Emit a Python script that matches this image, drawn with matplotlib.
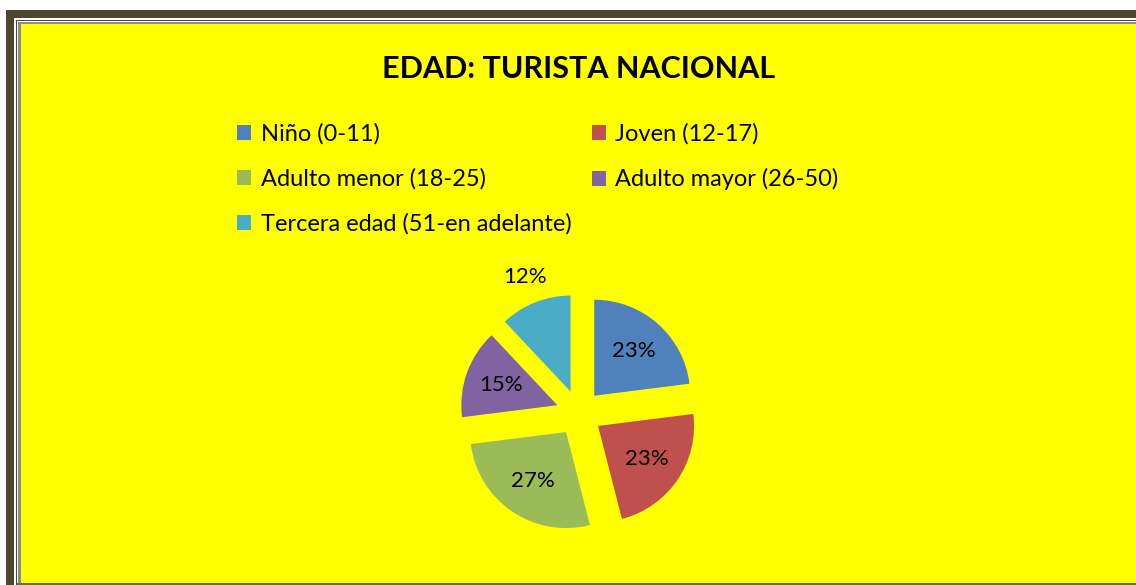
import matplotlib.pyplot as plt
from matplotlib.patches import Rectangle, Patch

# --- data ---
categories = ['Niño (0-11)', 'Joven (12-17)', 'Adulto menor (18-25)',
              'Adulto mayor (26-50)', 'Tercera edad (51-en adelante)']
shares = [23, 23, 27, 15, 12]
colors = ['#4F81BD', '#C0504D', '#9BBB59', '#8064A2', '#4BACC6']

W, H = 1136, 585
fig = plt.figure(figsize=(W / 100, H / 100), dpi=100, facecolor='white')


def frame_rect(x0, y0, x1, y1, color):
    """Rectangle given in pixel coords measured from the top-left."""
    fig.patches.append(Rectangle((x0 / W, 1 - y1 / H), (x1 - x0) / W, (y1 - y0) / H,
                                 transform=fig.transFigure, facecolor=color,
                                 edgecolor='none', zorder=-5))


# --- decorative frame ---
dark = '#4E4730'
frame_rect(6, 10, W, 18, dark)
frame_rect(6, 10, 14, H, dark)
frame_rect(16, 20, W, 21, dark)
frame_rect(16, 20, 17, H, dark)
frame_rect(18, 22, W, 24, '#8C8C8C')
frame_rect(18, 22, 21, H, '#8C8C8C')
frame_rect(21, 24, W, 583, '#FFFF00')
frame_rect(17, 583, W, H, '#6B6B50')

fig.text(579 / W, 1 - 69 / H, 'EDAD: TURISTA NACIONAL', ha='center', va='center',
         fontsize=22, fontweight='bold', family='Lato')

# --- pie ---
cx, cy, r = 579, 413, 96
ax = fig.add_axes([(cx - 150) / W, (H - cy - 150) / H, 300 / W, 300 / H], zorder=2)
ax.set_facecolor('none')
wedges, texts, autotexts = ax.pie(
    shares, colors=colors, startangle=90, counterclock=False,
    explode=[0.24] * len(shares), autopct='%d%%', pctdistance=0.62,
    textprops={'fontsize': 16, 'family': 'Lato', 'color': 'black'})
lim = 150 / r
ax.set_xlim(-lim, lim)
ax.set_ylim(-lim, lim)
ax.set_aspect('equal')

# 12% label sits outside its slice
x, y = autotexts[-1].get_position()
autotexts[-1].set_position((x * 1.52 / 0.86, y * 1.52 / 0.86))

# legend is filled row by row in the reference
order = [0, 2, 4, 1, 3]
handles = [Patch(facecolor=colors[i], edgecolor='none') for i in order]
labels = [categories[i] for i in order]
leg = fig.legend(handles, labels, loc='upper left', bbox_to_anchor=(216 / W, 1 - 102 / H),
                 ncol=2, frameon=False, prop={'family': 'Lato', 'size': 17},
                 handlelength=0.6, handleheight=0.6, handletextpad=0.4,
                 columnspacing=0.85, labelspacing=1.0)
leg.set_zorder(3)

fig.savefig('out.png', dpi=100, facecolor='white')
